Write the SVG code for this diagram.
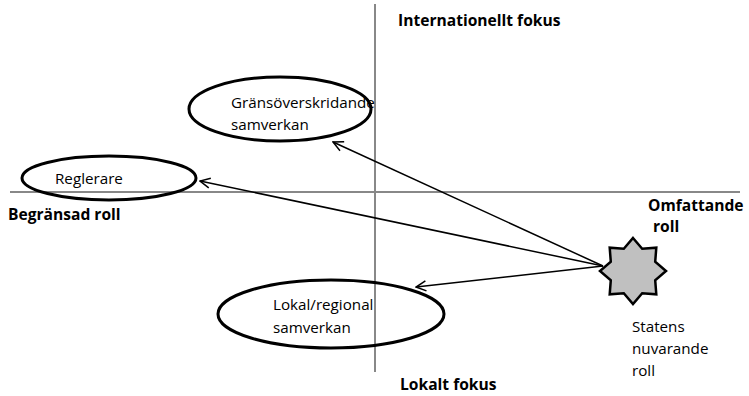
<svg xmlns="http://www.w3.org/2000/svg" width="749" height="396" viewBox="0 0 749 396">
<style>
.axis{stroke:#888;stroke-width:2;fill:none}
.ell{fill:none;stroke:#000;stroke-width:3}
.t{font-family:"Open Sans","Liberation Sans",sans-serif;font-size:15.2px;fill:#000}
.b{font-family:"Open Sans","Liberation Sans",sans-serif;font-size:15.6px;font-weight:bold;fill:#000}
.arr{stroke:#000;stroke-width:1.5;fill:none;marker-end:url(#ah)}
</style>
<defs>
<marker id="ah" viewBox="0 0 12 12" refX="11" refY="6" markerWidth="12" markerHeight="12" markerUnits="userSpaceOnUse" orient="auto">
<path d="M1,1 L11,6 L1,11" fill="none" stroke="#000" stroke-width="1.5"/>
</marker>
</defs>
<g id="axes">
<line class="axis" x1="375" y1="4" x2="375" y2="372"/>
<line class="axis" x1="10" y1="192" x2="740" y2="192"/>
</g>
<g id="labels">
<text class="b" x="398" y="26">Internationellt fokus</text>
<text class="b" x="8" y="220">Begränsad roll</text>
<text class="b" x="648" y="211">Omfattande</text>
<text class="b" x="653" y="232">roll</text>
<text class="b" x="400" y="390">Lokalt fokus</text>
</g>
<g id="node-grans">
<ellipse class="ell" cx="280" cy="109" rx="91" ry="32"/>
<text class="t" x="231" y="108">Gränsöverskridande</text>
<text class="t" x="231" y="130">samverkan</text>
</g>
<g id="node-reglerare">
<ellipse class="ell" cx="109" cy="178" rx="87" ry="22"/>
<text class="t" x="55" y="184">Reglerare</text>
</g>
<g id="node-lokal">
<ellipse class="ell" cx="331" cy="314" rx="113" ry="34"/>
<text class="t" x="273" y="310">Lokal/regional</text>
<text class="t" x="273" y="333">samverkan</text>
</g>
<g id="connectors">
<line class="arr" x1="603" y1="266" x2="333" y2="142"/>
<line class="arr" x1="603" y1="266" x2="200" y2="181"/>
<line class="arr" x1="603" y1="266" x2="416" y2="287"/>
</g>
<g id="node-star">
<polygon fill="#c0c0c0" stroke="#000" stroke-width="2.5" stroke-linejoin="miter" points="633,238 642.2,248.8 656.3,247.7 655.2,261.8 666,271 655.2,280.2 656.3,294.3 642.2,293.2 633,304 623.8,293.2 609.7,294.3 610.8,280.2 600,271 610.8,261.8 609.7,247.7 623.8,248.8"/>
<text class="t" x="632" y="332">Statens</text>
<text class="t" x="632" y="354">nuvarande</text>
<text class="t" x="632" y="376">roll</text>
</g>
</svg>
